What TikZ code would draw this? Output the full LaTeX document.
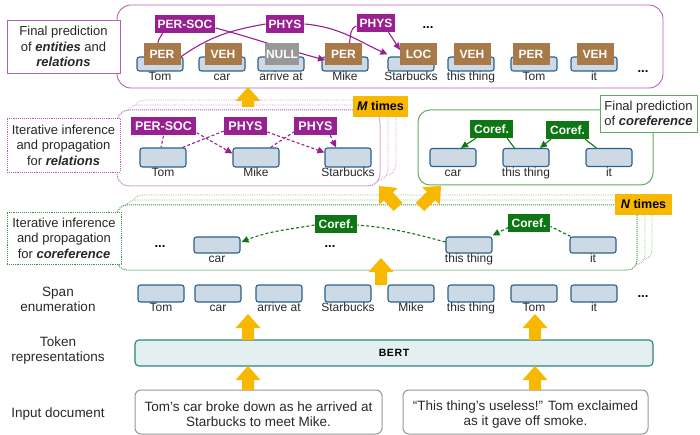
\documentclass[tikz,border=0pt]{standalone}
\usepackage{fontspec}
\setmainfont{Liberation Sans}
\usetikzlibrary{arrows.meta,calc}

\definecolor{relc}{RGB}{152,32,144}
\definecolor{relpanel}{RGB}{178,98,178}
\definecolor{entc}{RGB}{168,122,74}
\definecolor{nullc}{RGB}{152,152,152}
\definecolor{corc}{RGB}{14,118,20}
\definecolor{corpanel}{RGB}{98,170,98}
\definecolor{spanfill}{RGB}{205,218,229}
\definecolor{spanline}{RGB}{42,98,140}
\definecolor{flow}{RGB}{249,184,0}
\definecolor{bertfill}{RGB}{228,240,240}
\definecolor{bertline}{RGB}{38,134,128}
\definecolor{docline}{RGB}{150,150,150}
\definecolor{ink}{RGB}{40,40,40}

% thick yellow flow arrow from #1 (tail) to #2 (tip)
\newcommand\fatarrow[2]{%
  \path ($(#2)!14pt!(#1)$) coordinate (fah);
  \fill[flow] ($(#1)!6pt!90:(#2)$) -- ($(fah)!6pt!90:(#2)$) -- ($(fah)!12.5pt!90:(#2)$) -- (#2)
    -- ($(fah)!12.5pt!-90:(#2)$) -- ($(fah)!6pt!-90:(#2)$) -- ($(#1)!6pt!-90:(#2)$) -- cycle;}

\tikzset{
  spanbox/.style={draw=spanline, fill=spanfill, line width=1.1pt, rounded corners=2.5pt,
    minimum width=46pt, minimum height=17pt, inner sep=0pt, label distance=2pt},
  spanlbl/.style={font=\fontsize{12}{13}\selectfont, text=ink, inner sep=0pt,
    text height=9pt, text depth=2.5pt},
  tagbase/.style={text=white, font=\bfseries\fontsize{12}{13}\selectfont, inner ysep=0pt, minimum height=18pt},
  enttag/.style={tagbase, fill=entc, minimum width=37pt, minimum height=22pt, inner xsep=0pt},
  nulltag/.style={enttag, fill=nullc, minimum width=34pt},
  reltag/.style={tagbase, fill=relc, inner xsep=3pt},
  reltagb/.style={tagbase, fill=relc, inner xsep=4.5pt, font=\bfseries\fontsize{12.5}{13}\selectfont},
  cortag/.style={tagbase, fill=corc, inner xsep=4pt},
  relline/.style={draw=relc, line width=1.1pt},
  reldash/.style={relline, dash pattern=on 3pt off 2.2pt},
  corline/.style={draw=corc, line width=1.1pt},
  cordash/.style={corline, dash pattern=on 3pt off 2.2pt},
  arr/.style={-{Triangle[length=7pt,width=6.5pt]}},
  dots/.style={font=\bfseries\fontsize{13}{13}\selectfont, text=black, inner sep=0pt},
  lblbox/.style={fill=white, line width=0.9pt, align=center, inner sep=0pt,
    font=\fontsize{13}{15.5}\selectfont, text=ink},
  sidelbl/.style={align=center, inner sep=0pt, font=\fontsize{13.5}{15}\selectfont, text=ink},
  relback/.style={draw=relpanel!60, line width=0.8pt, densely dotted, fill=white, rounded corners=12pt},
  relfront/.style={draw=relpanel, line width=1pt, densely dotted, fill=white, rounded corners=12pt},
  corback/.style={draw=corpanel!70, line width=0.8pt, densely dotted, fill=white, rounded corners=10pt},
  corfront/.style={draw=corc!80, line width=1pt, densely dotted, fill=white, rounded corners=10pt},
  timesbox/.style={fill=flow, inner sep=0pt, font=\bfseries\fontsize{12.5}{13}\selectfont, text=black},
}

\begin{document}
\begin{tikzpicture}[x=1pt,y=1pt]
\useasboundingbox (0,0) rectangle (700,-435);

% ---------- final prediction of entities and relations ----------
\draw[draw=relpanel, line width=0.9pt, rounded corners=14pt] (117,-5) rectangle (663,-88);

\node[spanbox, minimum height=14pt, label={[spanlbl]below:Tom}]        (t1) at (160,-64) {};
\node[spanbox, minimum height=14pt, label={[spanlbl]below:car}]        (t2) at (222,-64) {};
\node[spanbox, minimum height=14pt, label={[spanlbl]below:arrive at}]  (t3) at (281,-64) {};
\node[spanbox, minimum height=14pt, label={[spanlbl]below:Mike}]       (t4) at (345,-64) {};
\node[spanbox, minimum height=14pt, label={[spanlbl]below:Starbucks}]  (t5) at (411,-64) {};
\node[spanbox, minimum height=14pt, label={[spanlbl]below:this thing}] (t6) at (471,-64) {};
\node[spanbox, minimum height=14pt, label={[spanlbl]below:Tom}]        (t7) at (534,-64) {};
\node[spanbox, minimum height=14pt, label={[spanlbl]below:it}]         (t8) at (594,-64) {};

\node[reltag] (r1) at (185,-24) {PER-SOC};
\node[reltag] (r2) at (285,-24) {PHYS};
\node[reltag] (r3) at (376,-23) {PHYS};

% entity tag positions (drawn after the relation links)
\coordinate (pe1) at (162,-54);
\coordinate (pe4) at (343.5,-54);
\coordinate (pe5) at (418.5,-54);

\draw[relline] ($(pe1)+(-4,11)$) to[out=90,in=-110] ($(r1.south west)+(8,0)$);
\draw[relline, arr] ($(r1.east)+(0,-4)$) to[out=-15,in=165] ($(pe4)+(-18.5,-6)$);
\draw[relline] ($(pe1)+(18.5,-3)$) to[out=35,in=190] (r2.west);
\draw[relline, arr] (r2.east) to[out=-5,in=155] ($(t5.north west)+(0,2)$);
\draw[relline] ($(pe4)+(6,11)$) to[out=80,in=200] ($(r3.west)+(0,-3)$);
\draw[relline, arr] ($(r3.south east)+(-7,0)$) -- ($(pe5)+(-18.5,4)$);

\node[enttag]  (e1) at (pe1) {PER};
\node[enttag]  (e2) at (223,-54) {VEH};
\node[nulltag] (e3) at (282,-54) {NULL};
\node[enttag]  (e4) at (pe4) {PER};
\node[enttag]  (e5) at (pe5) {LOC};
\node[enttag]  (e6) at (472,-54) {VEH};
\node[enttag]  (e7) at (531,-54) {PER};
\node[enttag]  (e8) at (595,-54) {VEH};

\node[dots] (dt1) at (428,-28) {...};
\node[dots] (dt2) at (643,-72) {...};

\node[lblbox, draw=relpanel, minimum width=113pt, minimum height=53pt] (lblent) at (63.5,-46.5)
  {Final prediction\\of \textbf{\textit{entities}} and\\\textbf{\textit{relations}}};

% ---------- iterative inference for relations ----------
\draw[relback]  (133,-100) rectangle (396,-176);
\draw[relback]  (125,-105) rectangle (388,-181);
\draw[relfront] (117,-110) rectangle (380,-186);

\node[spanbox, minimum height=19pt, label={[spanlbl]below:Tom}]       (m1) at (163,-157.5) {};
\node[spanbox, minimum height=19pt, label={[spanlbl]below:Mike}]      (m2) at (256,-157.5) {};
\node[spanbox, minimum height=19pt, label={[spanlbl]below:Starbucks}] (m3) at (348,-157.5) {};

\node[reltagb] (q1) at (163.5,-126.5) {PER-SOC};
\node[reltagb] (q2) at (245.5,-126) {PHYS};
\node[reltagb] (q3) at (315.5,-126) {PHYS};

\draw[reldash] (q1.south) -- ($(m1.north)+(-2,0)$);
\draw[reldash, arr] ($(q1.south east)+(0,3)$) -- ($(m2.west)+(0,4)$);
\draw[reldash] ($(m1.north east)+(-4,0)$) -- ($(q2.west)+(0,-5)$);
\draw[reldash, arr] ($(q2.east)+(0,-6)$) -- ($(m3.west)+(0,5)$);
\draw[reldash] ($(m2.north east)+(-9,0)$) -- ($(q3.west)+(0,-6)$);
\draw[reldash, arr] ($(q3.south east)+(-7,0)$) -- ($(m3.north)+(-12,0)$);

\node[lblbox, draw=relpanel, densely dotted, minimum width=113pt, minimum height=54pt] (lblrel) at (63.5,-145)
  {Iterative inference\\and propagation\\for \textbf{\textit{relations}}};

\node[timesbox, minimum width=55pt, minimum height=21pt] (mt) at (380.5,-106.5) {\textit{M} times};

% ---------- final prediction of coreference ----------
\draw[draw=corpanel, line width=1pt, rounded corners=12pt] (418,-110) rectangle (653,-185);

\node[spanbox, minimum height=18pt, label={[spanlbl]below:car}]        (c1) at (453,-157.5) {};
\node[spanbox, minimum height=18pt, label={[spanlbl]below:this thing}] (c2) at (526,-157.5) {};
\node[spanbox, minimum height=18pt, label={[spanlbl]below:it}]         (c3) at (609,-157.5) {};

\node[cortag] (f1) at (491.5,-129) {Coref.};
\node[cortag] (f2) at (567.5,-130) {Coref.};

\draw[corline] ($(c2.north west)+(12,0)$) -- ($(f1.south east)+(-6,0)$);
\draw[corline, arr] ($(f1.south west)+(6,0)$) -- ($(c1.north)+(8,0)$);
\draw[corline] ($(c3.north west)+(11,0)$) -- ($(f2.south east)+(-4,0)$);
\draw[corline, arr] ($(f2.south west)+(5,0)$) -- ($(c2.north)+(14,0)$);

\node[lblbox, draw=corpanel, minimum width=97pt, minimum height=37pt] (lblcorf) at (648.5,-113.5)
  {Final prediction\\of \textbf{\textit{coreference}}};

% ---------- iterative inference for coreference ----------
\draw[corback]  (132,-195) rectangle (652,-260);
\draw[corback]  (125,-200) rectangle (645,-265);
\draw[corfront] (117,-205) rectangle (637,-270);

\node[dots] (dc1) at (160,-247) {...};
\node[dots] (dc2) at (330,-247) {...};

\node[spanbox, minimum height=16pt, label={[spanlbl]below:car}]        (i1) at (217,-245) {};
\node[spanbox, minimum height=16pt, label={[spanlbl]below:this thing}] (i2) at (469,-245) {};
\node[spanbox, minimum height=16pt, label={[spanlbl]below:it}]         (i3) at (593,-245) {};

\node[cortag] (k1) at (336,-224) {Coref.};
\node[cortag] (k2) at (529,-223.5) {Coref.};

\draw[cordash] ($(i2.west)+(0,3)$) to[out=165,in=-5] ($(k1.east)+(0,-1)$);
\draw[cordash, arr] ($(k1.west)+(0,-1)$) to[out=-170,in=22] ($(i1.east)+(1,3)$);
\draw[cordash] ($(i3.north west)+(1,0)$) -- ($(k2.east)+(0,-3)$);
\draw[cordash, arr] ($(k2.west)+(1,-4)$) -- ($(i2.north east)+(0,1)$);

\node[lblbox, draw=corc!80, densely dotted, minimum width=114pt, minimum height=52pt] (lblcori) at (64,-238)
  {Iterative inference\\and propagation\\for \textbf{\textit{coreference}}};

\node[timesbox, minimum width=57pt, minimum height=21pt] (nt) at (643.5,-204.5) {\textit{N} times};

% ---------- span enumeration ----------
\node[spanbox, label={[spanlbl]below:Tom}]        (s1) at (161,-293.5) {};
\node[spanbox, label={[spanlbl]below:car}]        (s2) at (218,-293.5) {};
\node[spanbox, label={[spanlbl]below:arrive at}]  (s3) at (279,-293.5) {};
\node[spanbox, label={[spanlbl]below:Starbucks}]  (s4) at (348,-293.5) {};
\node[spanbox, label={[spanlbl]below:Mike}]       (s5) at (411,-293.5) {};
\node[spanbox, label={[spanlbl]below:this thing}] (s6) at (471,-293.5) {};
\node[spanbox, label={[spanlbl]below:Tom}]        (s7) at (534,-293.5) {};
\node[spanbox, label={[spanlbl]below:it}]         (s8) at (594,-293.5) {};
\node[dots] (ds) at (643,-297) {...};

% ---------- encoder ----------
\node[draw=bertline, fill=bertfill, line width=1.1pt, rounded corners=4pt,
      minimum width=518pt, minimum height=26pt, inner sep=0pt,
      font=\bfseries\fontsize{10.5}{11}\selectfont\addfontfeature{LetterSpace=6}, text=black] (bert) at (394,-353) {BERT};

% ---------- input documents ----------
\draw[draw=docline, line width=1pt, rounded corners=6pt] (135,-390) rectangle (382,-434);
\draw[draw=docline, line width=1pt, rounded corners=6pt] (403,-390) rectangle (648,-434);
\node[sidelbl] (doc1) at (258.5,-414.5) {Tom’s car broke down as he arrived at\\Starbucks to meet Mike.};
\node[sidelbl] (doc2) at (525.5,-414.5) {“This thing’s useless!” Tom exclaimed\\as it gave off smoke.};

% ---------- row captions ----------
\node[sidelbl] (capspan)  at (58,-299.5) {Span\\enumeration};
\node[sidelbl] (captok)   at (58,-350.5) {Token\\representations};
\node[sidelbl] (capinput) at (58,-414)   {Input document};

% ---------- flow arrows ----------
\coordinate (a1t) at (248,-107); \coordinate (a1h) at (248,-87);
\coordinate (a2t) at (398,-207); \coordinate (a2h) at (379,-186);
\coordinate (a3t) at (420,-207); \coordinate (a3h) at (441,-186);
\coordinate (a4t) at (381,-285); \coordinate (a4h) at (381,-258);
\coordinate (a5t) at (248,-340); \coordinate (a5h) at (248,-314);
\coordinate (a6t) at (535,-340); \coordinate (a6h) at (535,-314);
\coordinate (a7t) at (248,-390); \coordinate (a7h) at (248,-366);
\coordinate (a8t) at (535,-390); \coordinate (a8h) at (535,-366);
\fatarrow{a1t}{a1h}
\fatarrow{a2t}{a2h}
\fatarrow{a3t}{a3h}
\fatarrow{a4t}{a4h}
\fatarrow{a5t}{a5h}
\fatarrow{a6t}{a6h}
\fatarrow{a7t}{a7h}
\fatarrow{a8t}{a8h}
\end{tikzpicture}
\end{document}
